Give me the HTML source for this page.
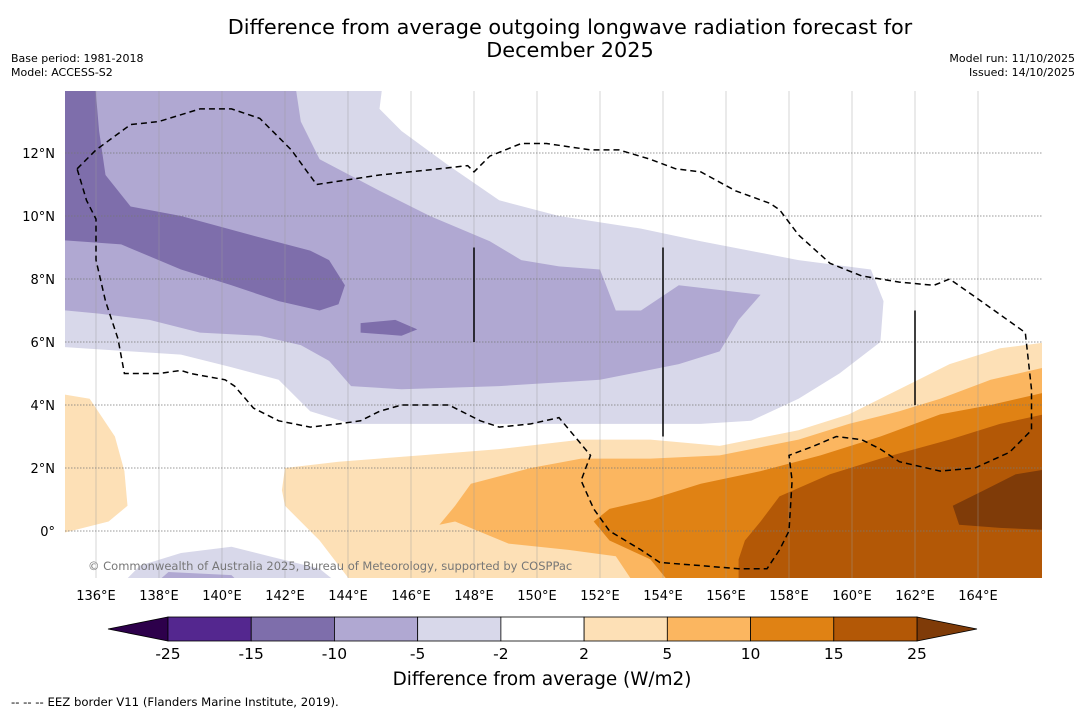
<!DOCTYPE html>
<html><head><meta charset="utf-8"><style>
body{margin:0;background:#fff;width:1085px;height:713px;overflow:hidden;font-family:"DejaVu Sans","Liberation Sans",sans-serif;}
svg{position:absolute;left:0;top:0}
</style></head><body>
<svg id="chart" width="1085" height="713" xmlns="http://www.w3.org/2000/svg"></svg>
<script>
const lonTicks=[136,138,140,142,144,146,148,150,152,154,156,158,160,162,164];
const latTicks=[0,2,4,6,8,10,12];
const levelLabels=["-25","-15","-10","-5","-2","2","5","10","15","25"];
const levelColors=["#54278f","#7e6eab","#b0a8d2","#d8d8ea","#ffffff","#fde0b6","#fbb660","#e08214","#b35806"];
const lavLight=[[134,15],[145.2,15],[145.0,13.4],[145.7,12.7],[147.2,11.6],[148.8,10.5],[150.7,10.0],[153.3,9.6],[155.2,9.2],[158.3,8.6],[160.6,8.3],[161.0,7.3],[160.9,6.0],[159.6,5.0],[158.3,4.2],[156.8,3.5],[155.2,3.4],[152.0,3.4],[147.2,3.4],[144.1,3.4],[142.8,3.8],[141.8,4.8],[140.3,5.2],[138.7,5.6],[137.1,5.7],[134,5.9]];
const lavMed=[[134,15],[142.2,15],[142.5,13.0],[143.1,11.8],[145.0,10.8],[146.6,10.0],[148.5,9.2],[149.5,8.6],[150.7,8.4],[152.0,8.3],[152.5,7.0],[153.3,7.0],[154.5,7.8],[157.1,7.5],[156.4,6.7],[155.8,5.7],[154.5,5.3],[152.0,4.8],[148.8,4.6],[145.7,4.5],[144.1,4.6],[143.4,5.4],[142.5,5.9],[141.2,6.2],[139.3,6.3],[137.7,6.7],[136.1,6.9],[134,7.1]];
const lavDark=[[134,15],[135.9,15],[136.1,12.7],[136.3,11.3],[137.1,10.3],[138.7,10.0],[140.9,9.4],[142.8,8.9],[143.4,8.6],[143.9,7.8],[143.7,7.2],[143.1,7.0],[141.8,7.3],[140.3,7.8],[138.7,8.3],[136.8,9.1],[134,9.3]];
const lavDarkBlob=[[144.4,6.6],[145.5,6.7],[146.2,6.4],[145.7,6.2],[144.4,6.3]];
const lavBottomLight=[[136.5,-2],[137.4,-1.1],[138.7,-0.7],[140.3,-0.5],[141.5,-0.8],[143.1,-1.2],[144.1,-2]];
const lavBottomMed=[[137.5,-2],[138.3,-1.3],[140.3,-1.4],[140.9,-2]];
const orLight=[[142.0,2.0],[143.7,2.2],[146.3,2.4],[148.8,2.6],[151.4,2.9],[153.6,2.9],[155.8,2.7],[158.3,3.2],[159.9,3.7],[161.5,4.5],[163.1,5.3],[164.7,5.8],[167,6.1],[167,-2],[144.4,-2],[143.1,-0.3],[142.0,0.8],[141.9,1.3]];
const orLightWest=[[134,4.5],[135.8,4.2],[136.6,3.0],[136.9,1.9],[137.0,0.8],[136.4,0.3],[134,-0.3]];
const orMed=[[167,5.4],[164.4,4.8],[162.8,4.2],[161.5,3.8],[159.9,3.4],[158.3,2.9],[155.8,2.4],[153.6,2.3],[151.4,2.3],[149.8,2.0],[147.9,1.5],[147.4,0.8],[146.9,0.2],[147.4,0.3],[149.1,-0.4],[151.0,-0.6],[152.5,-0.8],[153.3,-2],[167,-2]];
const orDark=[[167,4.6],[164.4,4.0],[162.8,3.7],[160.9,3.0],[159.0,2.4],[157.1,1.9],[155.2,1.5],[153.6,1.0],[152.3,0.7],[151.8,0.3],[152.3,-0.3],[153.6,-0.9],[154.5,-2],[167,-2]];
const brown=[[167,3.9],[164.7,3.4],[163.1,2.9],[160.9,2.3],[159.3,1.8],[157.7,1.1],[157.1,0.3],[156.6,-0.3],[156.4,-0.9],[156.4,-2],[167,-2]];
const darkBrown=[[167,2.1],[165.2,1.8],[164.2,1.3],[163.2,0.8],[163.4,0.2],[164.7,0.1],[167,0.0]];
const eez=[[135.4,11.5],[136.0,12.1],[137.1,12.9],[138.0,13.0],[139.3,13.4],[140.3,13.4],[141.2,13.1],[142.2,12.1],[143.0,11.0],[145.0,11.3],[146.9,11.5],[147.8,11.6],[148.0,11.4],[148.5,11.9],[149.5,12.3],[150.3,12.3],[151.0,12.2],[151.7,12.1],[152.6,12.1],[153.6,11.8],[154.4,11.5],[155.2,11.4],[156.3,10.8],[157.4,10.4],[157.7,10.2],[158.3,9.4],[159.3,8.5],[160.3,8.1],[161.5,7.9],[162.6,7.8],[163.1,8.0],[164.1,7.3],[165.5,6.3],[165.7,4.5],[165.7,3.2],[165.0,2.5],[163.9,2.0],[162.8,1.9],[161.5,2.2],[160.9,2.6],[160.3,2.9],[159.5,3.0],[158.8,2.7],[158.0,2.4],[158.1,1.6],[158.0,0.0],[157.7,-0.6],[157.3,-1.2],[156.4,-1.2],[155.2,-1.1],[153.9,-1.0],[153.3,-0.6],[152.3,0.0],[151.8,0.7],[151.4,1.6],[151.7,2.4],[151.2,3.0],[150.7,3.6],[149.8,3.4],[148.8,3.3],[148.2,3.5],[147.6,3.8],[147.2,4.0],[145.7,4.0],[145.0,3.8],[144.4,3.5],[143.7,3.4],[142.8,3.3],[141.8,3.5],[141.0,3.9],[140.4,4.6],[140.1,4.8],[139.0,5.0],[138.7,5.1],[138.0,5.0],[136.9,5.0],[136.7,6.1],[136.3,7.3],[136.0,8.6],[136.0,9.9],[135.7,10.5],[135.4,11.5]];
const lineLons=[148,154,162];
const lineLat0=[6,3,4];
const lineLat1=[9,9,7];

const X0=64.5,Y0=531,S=31.5,L=65,R=1042,T=91,B=578;
const xs=lon=>X0+(lon-135)*S;
const ys=lat=>Y0-lat*S;
const NS="http://www.w3.org/2000/svg";
const svg=document.getElementById('chart');
function mk(tag,attrs,parent){const e=document.createElementNS(NS,tag);for(const k in attrs)e.setAttribute(k,attrs[k]);(parent||svg).appendChild(e);return e;}
function pts(a){return a.map(p=>xs(p[0]).toFixed(1)+','+ys(p[1]).toFixed(1)).join(' ');}

const defs=mk('defs',{});
const cp=mk('clipPath',{id:'clip'},defs);
mk('rect',{x:L,y:T,width:R-L,height:B-T},cp);
const g=mk('g',{'clip-path':'url(#clip)'});



const polys=[[lavLight,levelColors[3],'contour-minus5-minus2'],[lavMed,levelColors[2],'contour-minus10-minus5'],[lavDark,levelColors[1],'contour-minus15-minus10'],[lavDarkBlob,levelColors[1],'contour-minus15-blob'],[lavBottomLight,levelColors[3],'contour-south-light'],[lavBottomMed,levelColors[2],'contour-south-med'],[orLight,levelColors[5],'contour-2-5'],[orLightWest,levelColors[5],'contour-2-5-west'],[orMed,levelColors[6],'contour-5-10'],[orDark,levelColors[7],'contour-10-15'],[brown,levelColors[8],'contour-15-25'],[darkBrown,'#7f3b08','contour-above-25']];
polys.forEach(p=>{const e=mk('polygon',{points:pts(p[0]),fill:p[1]},g);

});

lonTicks.forEach(l=>{const e=mk('line',{x1:xs(l),x2:xs(l),y1:T,y2:B,stroke:'#999','stroke-width':0.7,'stroke-opacity':0.6},g);

});
latTicks.forEach(l=>{const e=mk('line',{x1:L,x2:R,y1:ys(l),y2:ys(l),stroke:'#777','stroke-width':0.8,'stroke-dasharray':'1.5,1.5'},g);

});

const ez=mk('polyline',{points:pts(eez),fill:'none',stroke:'#000','stroke-width':1.5,'stroke-dasharray':'6,4'},g);


lineLons.forEach((l,i)=>{const e=mk('line',{x1:xs(l),x2:xs(l),y1:ys(lineLat0[i]),y2:ys(lineLat1[i]),stroke:'#000','stroke-width':1.5},g);

});

const cr=mk('text',{x:88,y:570,'font-size':11.5,fill:'#777'});
cr.textContent='© Commonwealth of Australia 2025, Bureau of Meteorology, supported by COSPPac';



lonTicks.forEach(l=>{const t=mk('text',{x:xs(l),y:600,'font-size':13,'text-anchor':'middle',fill:'#000'});t.textContent=l+'°E';

});
latTicks.forEach(l=>{const t=mk('text',{x:55,y:ys(l)+5,'font-size':13,'text-anchor':'end',fill:'#000'});t.textContent=l===0?'0°':l+'°N';

});

// colorbar
const cbL=168,cbR=917,cbT=617,cbB=641,n=levelColors.length,w=(cbR-cbL)/n;
const lt=mk('polygon',{points:`108,${(cbT+cbB)/2} ${cbL},${cbT} ${cbL},${cbB}`,fill:'#2d004b',stroke:'#000','stroke-width':0.8});


const rt=mk('polygon',{points:`977,${(cbT+cbB)/2} ${cbR},${cbT} ${cbR},${cbB}`,fill:'#7f3b08',stroke:'#000','stroke-width':0.8});


levelColors.forEach((c,i)=>{const r=mk('rect',{x:cbL+i*w,y:cbT,width:w,height:cbB-cbT,fill:c,stroke:'#000','stroke-width':0.8});

});
levelLabels.forEach((s,i)=>{const t=mk('text',{x:cbL+i*w,y:659,'font-size':15.5,'text-anchor':'middle'});t.textContent=s;

});
const ct=mk('text',{x:542,y:685,'font-size':18.4,'text-anchor':'middle'});ct.textContent='Difference from average (W/m2)';



function txt(x,y,s,size,anchor,name){const t=mk('text',{x:x,y:y,'font-size':size,'text-anchor':anchor});t.textContent=s;

}
txt(570,34,'Difference from average outgoing longwave radiation forecast for',20.8,'middle','chart-title');
txt(570,57,'December 2025',20.8,'middle','chart-title-line2');
txt(11,62,'Base period: 1981-2018',11,'start','base-period');
txt(11,76,'Model: ACCESS-S2',11,'start','model-name');
txt(1075,62,'Model run: 11/10/2025',11,'end','model-run');
txt(1075,76,'Issued: 14/10/2025',11,'end','issued-date');
txt(11,706,'--  --  -- EEZ border V11 (Flanders Marine Institute, 2019).',11.7,'start','eez-legend');
</script>
</body></html>
